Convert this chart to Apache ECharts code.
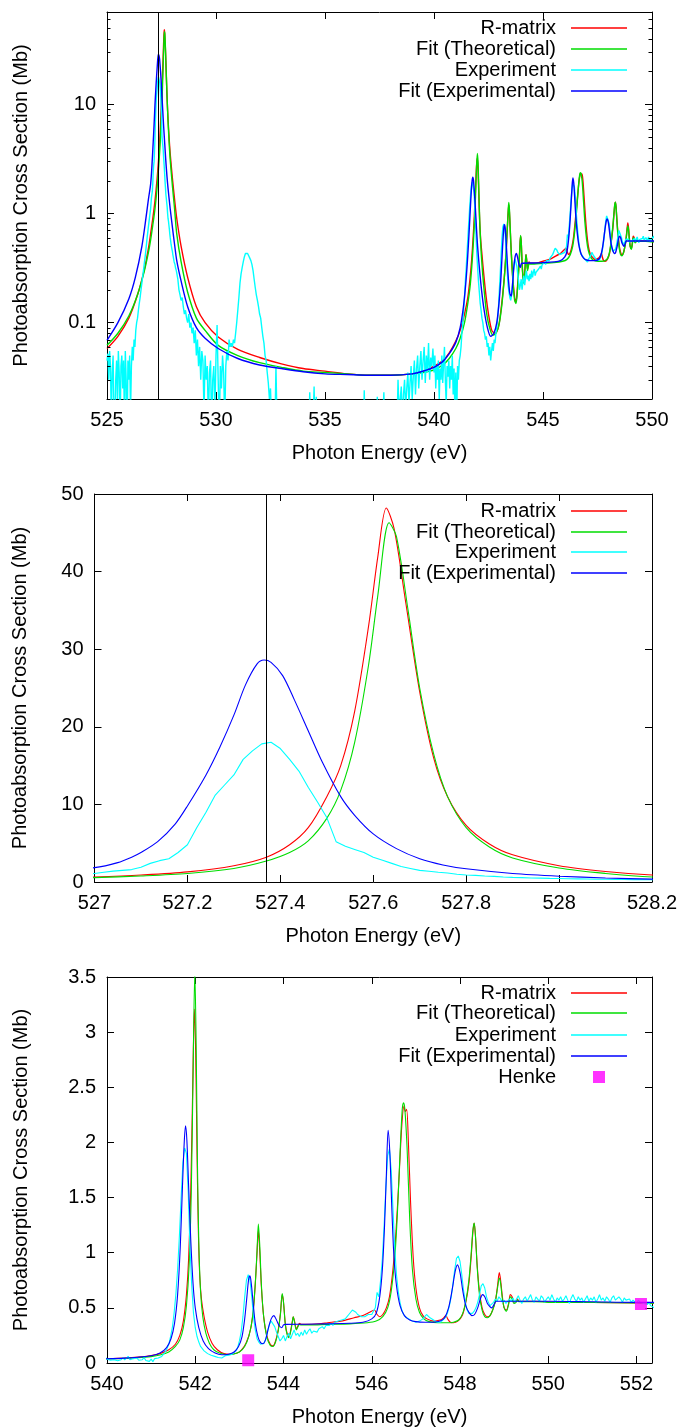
<!DOCTYPE html>
<html><head><meta charset="utf-8">
<script src="https://cdn.jsdelivr.net/npm/echarts@6/dist/echarts.min.js"></script>
<style>html,body{margin:0;padding:0;background:#fff}#c{width:685px;height:1428px}</style>
</head><body><div id="c"></div>
<script>
// ---------------- DATA ----------------
const seriesNames = ['R-matrix', 'Fit (Theoretical)', 'Experiment', 'Fit (Experimental)', 'Henke'];
const xTitle = 'Photon Energy (eV)';
const yTitle = 'Photoabsorption Cross Section (Mb)';
const markerEnergy = 527.37;

const rMatrix = [[525.0,0.058],[525.5,0.075],[526.0,0.11],[526.4,0.18],[526.7,0.3],[526.9,0.48],[527.0,0.65],[527.1,0.9],[527.2,1.3],[527.3,2.1],[527.37,3.2],[527.42,4.8],[527.46,7.0],[527.5,11.0],[527.53,15.0],[527.56,22],[527.59,33],[527.61,42],[527.628,48.2],[527.645,45.5],[527.67,36],[527.7,24.5],[527.73,16],[527.76,11],[527.8,7.3],[527.85,4.9],[527.9,3.5],[528.0,2.1],[528.1,1.35],[528.2,0.9],[528.4,0.5],[528.7,0.26],[529.1,0.14],[529.5,0.1],[530.1,0.074],[531.0,0.057],[532.0,0.048],[533.0,0.042],[534.0,0.038],[535.0,0.036],[536.0,0.034],[537.0,0.033],[538.0,0.033],[539.0,0.034],[539.5,0.036],[540.0,0.04],[540.4,0.045],[540.7,0.053],[541.0,0.068],[541.2,0.085],[541.4,0.12],[541.55,0.17],[541.65,0.25],[541.73,0.38],[541.8,0.62],[541.85,0.95],[541.9,1.6],[541.94,2.45],[541.98,3.21],[542.01,2.8],[542.04,1.9],[542.07,1.2],[542.1,0.8],[542.14,0.58],[542.2,0.42],[542.28,0.28],[542.38,0.18],[542.5,0.12],[542.65,0.085],[542.8,0.08],[542.95,0.09],[543.05,0.12],[543.15,0.18],[543.25,0.3],[543.32,0.5],[543.37,0.78],[543.4,1.0],[543.43,1.2],[543.46,1.02],[543.5,0.68],[543.55,0.42],[543.62,0.25],[543.7,0.17],[543.76,0.155],[543.82,0.2],[543.88,0.3],[543.93,0.45],[543.97,0.62],[544.0,0.55],[544.04,0.36],[544.08,0.27],[544.12,0.24],[544.16,0.29],[544.2,0.38],[544.22,0.42],[544.25,0.38],[544.29,0.31],[544.33,0.34],[544.36,0.36],[544.4,0.35],[544.5,0.35],[544.8,0.355],[545.0,0.365],[545.3,0.38],[545.6,0.41],[545.8,0.43],[545.95,0.46],[546.06,0.48],[546.12,0.44],[546.18,0.42],[546.25,0.44],[546.33,0.5],[546.4,0.6],[546.48,0.85],[546.55,1.2],[546.62,1.7],[546.68,2.15],[546.73,2.33],[546.76,2.28],[546.79,2.3],[546.83,2.0],[546.88,1.45],[546.94,0.95],[547.0,0.68],[547.08,0.5],[547.16,0.43],[547.25,0.4],[547.4,0.38],[547.55,0.39],[547.63,0.41],[547.68,0.43],[547.72,0.4],[547.78,0.37],[547.85,0.365],[547.95,0.38],[548.05,0.43],[548.13,0.55],[548.2,0.72],[548.25,0.95],[548.29,1.18],[548.32,1.27],[548.35,1.15],[548.39,0.88],[548.44,0.65],[548.5,0.5],[548.56,0.44],[548.62,0.42],[548.68,0.43],[548.74,0.48],[548.8,0.56],[548.85,0.7],[548.89,0.82],[548.92,0.75],[548.96,0.6],[549.0,0.5],[549.05,0.48],[549.1,0.54],[549.14,0.62],[549.18,0.6],[549.22,0.55],[549.27,0.56],[549.3,0.58],[549.34,0.56],[549.45,0.56],[549.7,0.56],[550.0,0.555],[551.0,0.55],[552.0,0.545],[552.5,0.54]];

const fitTheory = [[525.0,0.062],[525.5,0.08],[526.0,0.115],[526.4,0.18],[526.7,0.29],[526.9,0.44],[527.0,0.57],[527.1,0.78],[527.2,1.1],[527.3,1.75],[527.37,2.7],[527.42,3.8],[527.46,5.3],[527.5,8.2],[527.53,11.8],[527.56,18],[527.59,28],[527.61,37],[527.634,46.3],[527.65,44.5],[527.675,35],[527.7,25],[527.73,16.5],[527.76,11],[527.8,7.0],[527.85,4.5],[527.9,3.1],[528.0,1.8],[528.1,1.1],[528.2,0.65],[528.4,0.36],[528.7,0.19],[529.1,0.11],[529.5,0.085],[530.1,0.062],[531.0,0.05],[532.0,0.043],[533.0,0.039],[534.0,0.036],[535.0,0.035],[536.0,0.034],[537.0,0.033],[538.0,0.033],[539.0,0.034],[539.5,0.035],[540.0,0.037],[540.4,0.041],[540.7,0.047],[541.0,0.058],[541.2,0.072],[541.4,0.1],[541.55,0.15],[541.65,0.21],[541.73,0.32],[541.8,0.52],[541.86,0.88],[541.91,1.55],[541.95,2.6],[541.99,3.55],[542.02,2.9],[542.05,1.8],[542.08,1.1],[542.12,0.65],[542.17,0.42],[542.24,0.27],[542.32,0.18],[542.42,0.12],[542.55,0.09],[542.7,0.077],[542.85,0.08],[543.0,0.1],[543.12,0.15],[543.22,0.25],[543.3,0.42],[543.36,0.72],[543.4,1.02],[543.43,1.26],[543.46,1.08],[543.5,0.7],[543.55,0.42],[543.62,0.24],[543.7,0.16],[543.76,0.15],[543.82,0.19],[543.88,0.29],[543.93,0.44],[543.97,0.63],[544.0,0.55],[544.04,0.35],[544.08,0.26],[544.12,0.23],[544.16,0.28],[544.2,0.37],[544.22,0.42],[544.25,0.37],[544.29,0.3],[544.33,0.33],[544.36,0.35],[544.4,0.345],[544.6,0.345],[545.0,0.35],[545.5,0.355],[545.9,0.365],[546.1,0.38],[546.25,0.42],[546.36,0.5],[546.44,0.65],[546.52,0.95],[546.58,1.35],[546.64,1.9],[546.69,2.3],[546.72,2.36],[546.75,2.3],[546.8,1.95],[546.86,1.3],[546.92,0.85],[547.0,0.58],[547.08,0.46],[547.18,0.4],[547.3,0.375],[547.5,0.365],[547.7,0.365],[547.85,0.37],[547.97,0.39],[548.06,0.45],[548.14,0.58],[548.2,0.75],[548.25,0.98],[548.29,1.2],[548.32,1.27],[548.35,1.15],[548.39,0.86],[548.44,0.62],[548.5,0.48],[548.56,0.42],[548.62,0.41],[548.68,0.43],[548.74,0.48],[548.8,0.56],[548.85,0.68],[548.89,0.77],[548.92,0.72],[548.96,0.58],[549.0,0.5],[549.05,0.47],[549.1,0.53],[549.14,0.6],[549.18,0.58],[549.22,0.54],[549.27,0.55],[549.3,0.57],[549.34,0.555],[549.45,0.555],[549.7,0.555],[550.0,0.55],[551.0,0.548],[552.0,0.545],[552.5,0.54]];

const fitExperimental = [[525.0,0.069],[525.5,0.1],[526.0,0.165],[526.3,0.26],[526.6,0.5],[526.8,0.95],[526.9,1.35],[527.0,1.85],[527.05,2.5],[527.08,3.2],[527.1,3.8],[527.136,5.2],[527.174,7.5],[527.2,9.8],[527.24,13.8],[527.27,17.4],[527.3,21.5],[527.325,25.4],[527.35,28.1],[527.365,28.6],[527.38,28.3],[527.405,26.6],[527.43,23.5],[527.46,19.5],[527.49,15.5],[527.53,11.0],[527.56,8.6],[527.6,6.2],[527.65,4.3],[527.7,3.0],[527.75,2.2],[527.8,1.7],[527.9,1.1],[528.0,0.75],[528.1,0.52],[528.2,0.37],[528.4,0.24],[528.7,0.14],[529.1,0.09],[529.5,0.072],[530.1,0.058],[531.0,0.047],[532.0,0.041],[533.0,0.038],[534.0,0.0355],[535.0,0.034],[536.0,0.0335],[537.0,0.033],[538.0,0.033],[539.0,0.034],[539.5,0.036],[540.0,0.039],[540.4,0.044],[540.7,0.052],[541.0,0.066],[541.2,0.09],[541.35,0.14],[541.45,0.22],[541.53,0.36],[541.6,0.62],[541.66,1.05],[541.71,1.6],[541.75,2.0],[541.78,2.15],[541.81,2.02],[541.85,1.6],[541.9,1.1],[541.95,0.72],[542.0,0.5],[542.08,0.32],[542.18,0.2],[542.3,0.13],[542.45,0.09],[542.6,0.075],[542.75,0.08],[542.88,0.1],[542.98,0.15],[543.06,0.24],[543.12,0.4],[543.17,0.6],[543.21,0.76],[543.24,0.79],[543.27,0.72],[543.31,0.55],[543.36,0.36],[543.42,0.24],[543.48,0.185],[543.54,0.175],[543.6,0.22],[543.66,0.32],[543.72,0.4],[543.78,0.43],[543.84,0.39],[543.9,0.34],[543.96,0.32],[544.0,0.345],[544.05,0.35],[544.5,0.352],[545.0,0.355],[545.5,0.36],[545.8,0.37],[546.0,0.4],[546.1,0.45],[546.18,0.6],[546.24,0.85],[546.29,1.25],[546.33,1.7],[546.37,2.11],[546.41,1.9],[546.45,1.45],[546.5,0.98],[546.56,0.7],[546.64,0.52],[546.74,0.43],[546.86,0.39],[547.0,0.375],[547.2,0.37],[547.4,0.37],[547.55,0.38],[547.65,0.41],[547.74,0.5],[547.82,0.66],[547.89,0.83],[547.94,0.89],[548.0,0.82],[548.06,0.66],[548.13,0.52],[548.2,0.46],[548.27,0.43],[548.33,0.44],[548.4,0.5],[548.46,0.58],[548.51,0.62],[548.56,0.6],[548.62,0.54],[548.68,0.51],[548.72,0.5],[548.77,0.53],[548.82,0.56],[549.0,0.56],[550.0,0.56],[551.0,0.555],[552.0,0.55],[552.5,0.55]];

// Experiment: measured on uniform energy grids (start, step, values)
const expAStart = 525.00, expAStep = 0.04;
const expA = [0.045,0.052,0.03,0.055,0.04,0.012,0.035,0.05,0.015,0.008,0.03,0.045,0.02,0.055,0.035,0.01,0.04,0.05,0.025,0.045,0.012,0.055,0.03,0.008,0.045,0.03,0.05,0.015,0.04,0.06,0.045,0.07,0.06,0.085,0.1,0.11,0.13,0.15,0.17,0.2,0.23,0.27,0.31,0.36,0.42,0.5,0.6,0.7,0.82,0.95];
const expBStart = 527.00, expBStep = 0.02;
const expB = [1.1,1.25,1.4,1.5,1.6,1.9,2.4,2.75,3.0,3.8,4.8,7.0,9.0,11.2,12.5,13.8,15.8,16.9,17.8,18.0,17.2,15.8,14.3,12.2,10.3,8.3,5.2,4.6,4.2,3.8,3.2,2.8,2.4,2.0,1.75,1.5,1.38,1.25,1.15,1.0,0.9,0.85,0.78,0.72,0.65,0.6,0.56,0.52,0.5,0.47,0.45,0.42,0.4,0.38,0.36,0.35,0.34,0.32,0.31,0.3,0.29];
const expCStart = 528.25, expCStep = 0.05;
const expC = [0.25,0.2,0.18,0.16,0.17,0.14,0.12,0.13,0.11,0.1,0.12,0.09,0.1,0.08,0.09,0.065,0.085,0.05,0.07,0.04,0.06,0.03,0.055,0.045,0.015,0.05,0.03,0.04,0.012,0.035,0.045,0.01,0.03,0.04,0.015,0.05,0.095,0.03,0.01,0.04,0.025,0.05,0.035,0.012,0.04,0.055,0.045,0.07,0.06,0.065,0.06,0.07,0.065,0.08,0.1,0.13,0.17,0.23,0.28,0.32,0.36,0.4,0.43,0.44,0.43,0.41,0.39,0.37,0.34,0.3,0.25,0.21,0.18,0.16,0.14,0.12,0.11,0.09,0.075,0.065,0.05,0.045,0.035,0.028,0.02,0.025,0.012,0.015,0.008,0.01,0.04,0.012,0.006,
0.01,0.007,0.012,0.009,0.005,0.011,0.008,0.013,0.006,0.01,
0.008,0.012,0.006,0.01,0.014,0.007,0.009,0.005,0.011,0.008,
0.012,0.006,0.01,0.009,0.013,0.007,0.011,0.008,0.023,0.01,
0.008,0.012,0.026,0.009,0.021,0.007,0.011,0.006,0.01,0.013,
0.008,0.011,0.006,0.012,0.009,0.005,0.01,0.013,0.007,0.009,
0.011,0.006,0.01,0.008,0.012,0.007,0.009,0.013,0.006,0.01,
0.008,0.012,0.005,0.01,0.009,0.013,0.007,0.011,0.008,0.01,
0.006,0.012,0.009,0.011,0.007,0.01,0.013,0.008,0.024,0.009,
0.011,0.006,0.01,0.012,0.008,0.009,0.013,0.007,0.01,0.012,
0.021,0.008,0.011,0.006,0.01,0.013,0.023,0.009,0.012,0.007,
0.01,0.014,0.008,0.012,0.016,0.009,0.013,0.018,0.011,
0.03,0.014,0.02,0.026,0.012,0.022,0.03,0.016,0.025,0.035,0.018,0.028,0.04,0.02,0.032,0.045,0.022,0.038,0.05,0.025,0.04,0.055,0.03,0.045,0.06,0.028,0.05,0.035,0.065,0.03,0.048,0.04,0.058];
const expDStart = 540.00, expDStep = 0.04;
const expD = [0.035,0.05,0.025,0.04,0.03,0.045,0.02,0.038,0.03,0.05,0.028,0.042,0.06,0.03,0.018,0.04,0.032,0.045,0.025,0.04,0.03,0.05,0.022,0.038,0.015,0.035,0.012,0.04,0.03,0.045,0.05,
0.06,0.08,0.1,0.13,0.17,0.24,0.32,0.45,0.62,0.85,1.15,1.5,1.82,1.95,1.9,1.55,1.05,0.7,0.45,0.32,0.24,0.19,0.15,0.13,0.11,0.1,0.085,0.08,0.07,0.075,0.06,0.065,0.05,0.06,0.045,0.055,0.065,0.055,0.07,0.065,0.08,0.09,0.11,0.14,0.2,0.28,0.42,0.6,0.75,0.8,0.75,0.6,0.42,0.3,0.22,0.19,0.17,0.16,0.18,0.22,0.29,0.35,0.38,0.37,0.33,0.28,0.24,0.2,0.22,0.25,0.2,0.24,0.27,0.22,0.26,0.3,0.25,0.27,0.24,0.28,0.25,0.3,0.26,0.29,0.31,0.27,0.29,0.3,0.28,0.31,0.3,0.33,0.31,0.34,0.33,0.34,0.36,0.34,0.37,0.36,0.38,0.37,0.39,0.38,0.4,0.42,0.44,0.46,0.48,0.49,0.46,0.44,0.43,0.42,0.43,0.42,0.43,0.44,0.43,0.44,0.45,0.5,0.64,0.6,0.75,0.95,1.25,1.6,1.88,1.94,1.75,1.4,1.05,0.8,0.65,0.55,0.48,0.44,0.42,0.41,0.4,0.39,0.38,0.38,0.37,0.36,0.38,0.37,0.4,0.42,0.44,0.43,0.41,0.4,0.39,0.38,0.37,0.38,0.37,0.38,0.4,0.42,0.46,0.52,0.6,0.72,0.85,0.95,0.97,0.92,0.8,0.66,0.55,0.48,0.45,0.44,0.45,0.47,0.5,0.55,0.62,0.7,0.72,0.68,0.6,0.55,0.52,0.53,0.55,0.58,0.56,0.6,0.58,0.55,0.57,0.54,0.56,0.58,
0.56,0.59,0.55,0.58,0.61,0.57,0.54,0.58,0.6,0.56,
0.59,0.62,0.57,0.55,0.6,0.58,0.56,0.61,0.59,0.55,
0.58,0.6,0.57,0.62,0.58,0.55,0.59,0.57,0.6,0.56,
0.58,0.61,0.57,0.54,0.59,0.62,0.58,0.56,0.6,0.57,
0.59,0.55,0.58,0.61,0.56,0.59,0.57,0.6,0.55,0.58,
0.62,0.57,0.59,0.56,0.6,0.58,0.55,0.59,0.61,0.57,
0.56,0.6,0.58,0.55,0.59,0.57,0.56,0.58,0.55,0.57,
0.56,0.54,0.57,0.55,0.56,0.54,0.55,0.53,0.55,0.52,0.53,0.5];

const henke = [[543.2,0.025],[552.1,0.535]];

// axis ticks
const logMinorTicks = [0.03,0.04,0.05,0.06,0.07,0.08,0.09,0.2,0.3,0.4,0.5,0.6,0.7,0.8,0.9,2,3,4,5,6,7,8,9,20,30,40,50,60];

// ---------------- CHART ----------------
const F = 'Liberation Sans, Arial, Helvetica, sans-serif';
const C = { red:'#ff0000', green:'#00dd00', cyan:'#00ffff', blue:'#0000ff', mag:'#ff00ff' };

function seg(start, step, vals) { return vals.map((v, i) => [Math.round((start + i * step) * 1000) / 1000, v]); }
const experiment = [].concat(seg(expAStart, expAStep, expA), seg(expBStart, expBStep, expB), seg(expCStart, expCStep, expC), seg(expDStart, expDStep, expD));

const panels = [
  { grid:{left:107, top:12, width:545, height:387}, x:[525,550,5], y:{type:'log', min:0.02, max:70}, ygap:76, marker:true, henke:false, lw:1.4,
    rows:[18,39,60,81] },
  { grid:{left:94.5, top:494, width:557.5, height:388}, x:[527,528.2,0.2], y:{type:'value', min:0, max:50, interval:10}, ygap:64, marker:true, henke:false, lw:1.1,
    rows:[501,522,542,563] },
  { grid:{left:107, top:977, width:545, height:386.5}, x:[540,552.35,2], y:{type:'value', min:0, max:3.5, interval:0.5}, ygap:76, marker:false, henke:true, lw:1.1,
    rows:[983,1003,1025,1046,1067] }
];

const grids = [], xAxes = [], yAxes = [], series = [], legends = [];
const txt = { fontSize:20, color:'#000', fontFamily:F };

panels.forEach((p, gi) => {
  grids.push(Object.assign({ containLabel:false }, p.grid));
  const xBase = { type:'value', gridIndex:gi, min:p.x[0], max:p.x[1], interval:p.x[2], splitLine:{show:false},
    axisLine:{show:true, onZero:false, lineStyle:{color:'#000', width:1}},
    axisTick:{show:true, inside:true, length:7, lineStyle:{color:'#000', width:1}} };
  xAxes.push(Object.assign({}, xBase, { position:'bottom',
    axisLabel:Object.assign({ margin:11, showMaxLabel: gi !== 2, showMinLabel:true }, txt),
    name:xTitle, nameLocation:'middle', nameGap:44, nameTextStyle:Object.assign({lineHeight:20}, txt) }));
  xAxes.push(Object.assign({}, xBase, { position:'top', axisLabel:{show:false} }));
  const yBase = Object.assign({ gridIndex:gi, splitLine:{show:false},
    axisLine:{show:true, onZero:false, lineStyle:{color:'#000', width:1}},
    axisTick:{show:true, inside:true, length:7, lineStyle:{color:'#000', width:1}} }, p.y);
  const isLog = p.y.type === 'log';
  yAxes.push(Object.assign({}, yBase, { position:'left',
    axisLabel:Object.assign({ margin:11, showMinLabel: !isLog, showMaxLabel: !isLog }, txt),
    name:yTitle, nameLocation:'middle', nameGap:p.ygap, nameTextStyle:Object.assign({lineHeight:20}, txt) }));
  yAxes.push(Object.assign({}, yBase, { position:'right', axisLabel:{show:false} }));

  const xi = gi * 2, yi = gi * 2;
  const lineS = (name, data, color) => ({ type:'line', name, data, xAxisIndex:xi, yAxisIndex:yi, showSymbol:false, symbol:'none',
    clip:true, silent:true, animation:false, lineStyle:{color, width:p.lw}, itemStyle:{color}, smooth:0.3 });
  series.push(lineS(seriesNames[0], rMatrix, C.red));
  series.push(lineS(seriesNames[1], fitTheory, C.green));
  const e = lineS(seriesNames[2], experiment, C.cyan); e.smooth = false;
  series.push(e);
  const b = lineS(seriesNames[3], fitExperimental, C.blue);
  if (p.marker) {
    b.markLine = { symbol:'none', silent:true, animation:false, label:{show:false},
      lineStyle:{color:'#000', width:1, type:'solid'}, data:[{ xAxis: markerEnergy }] };
  }
  series.push(b);
  if (p.henke) {
    series.push({ type:'scatter', name:seriesNames[4], data:henke, xAxisIndex:xi, yAxisIndex:yi, symbol:'rect', symbolSize:12,
      itemStyle:{color:C.mag}, clip:false, silent:true, animation:false, z:5 });
  }
  if (isLog) {
    series.push({ type:'custom', xAxisIndex:xi, yAxisIndex:yi, silent:true, animation:false, clip:false, z:4,
      data: logMinorTicks.map(v => [p.x[0], v]),
      renderItem: (params, api) => {
        const v = api.value(1);
        const a = api.coord([p.x[0], v]), r = api.coord([p.x[1], v]);
        const y = Math.round(a[1]) + 0.5;
        return { type:'group', children:[
          { type:'line', shape:{x1:a[0], y1:y, x2:a[0] + 3.5, y2:y}, style:{stroke:'#000', lineWidth:1} },
          { type:'line', shape:{x1:r[0] - 3.5, y1:y, x2:r[0], y2:y}, style:{stroke:'#000', lineWidth:1} } ] };
      } });
  }
  const nItems = p.henke ? 5 : 4;
  for (let k = 0; k < nItems; k++) {
    const isH = k === 4;
    legends.push({ data:[seriesNames[k]], right: isH ? 80 : 58, top:p.rows[k], orient:'horizontal', align:'right',
      padding:0, itemGap:0, icon:'rect', itemWidth: isH ? 12 : 56, itemHeight: isH ? 12 : 1.5, selectedMode:false,
      textStyle:Object.assign({ lineHeight:20, padding:[0, isH ? 32 : 10, 0, 0] }, txt) });
  }
});

const chart = echarts.init(document.getElementById('c'), null, { renderer:'canvas' });
chart.setOption({ animation:false, backgroundColor:'#fff', grid:grids, xAxis:xAxes, yAxis:yAxes, series, legend:legends });
</script></body></html>
